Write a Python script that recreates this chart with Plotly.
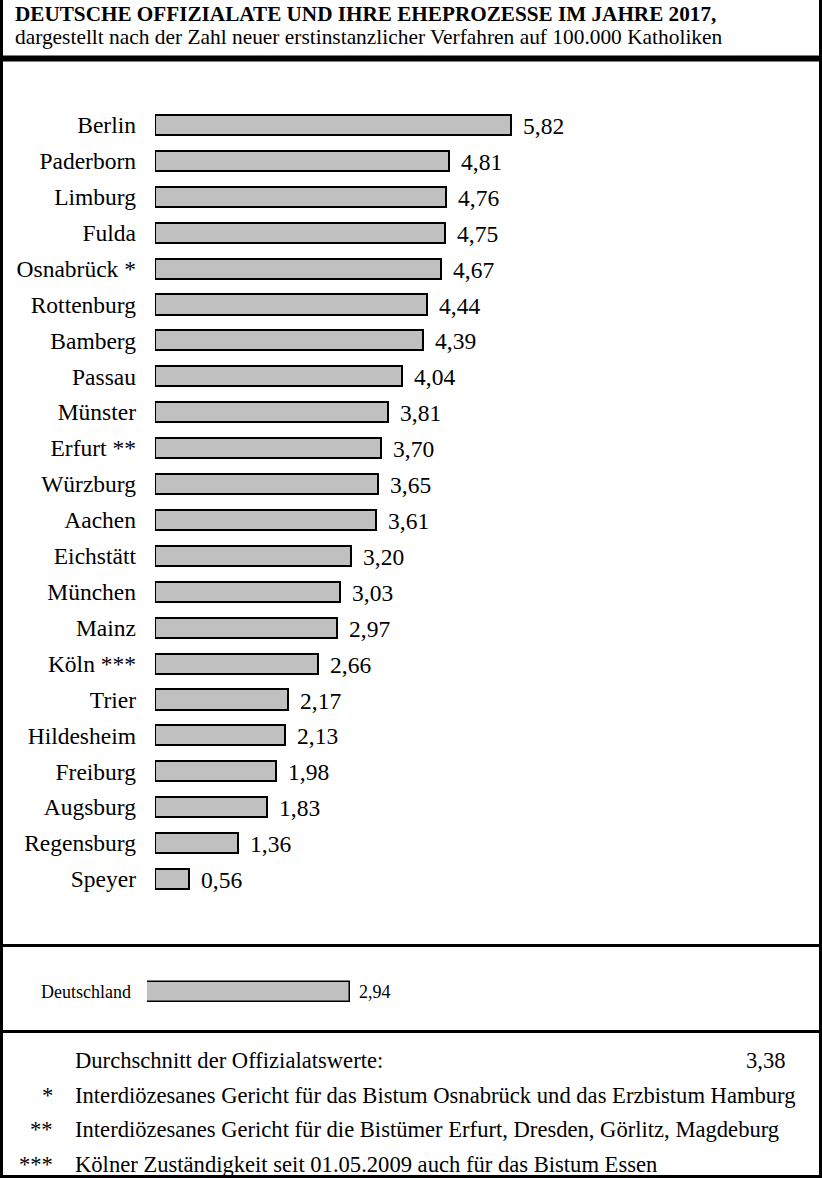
import plotly.graph_objects as go

W, H = 822, 1178

categories = ["Berlin", "Paderborn", "Limburg", "Fulda", "Osnabrück *", "Rottenburg",
              "Bamberg", "Passau", "Münster", "Erfurt **", "Würzburg", "Aachen",
              "Eichstätt", "München", "Mainz", "Köln ***", "Trier", "Hildesheim",
              "Freiburg", "Augsburg", "Regensburg", "Speyer"]
values = [5.82, 4.81, 4.76, 4.75, 4.67, 4.44, 4.39, 4.04, 3.81, 3.70, 3.65, 3.61,
          3.20, 3.03, 2.97, 2.66, 2.17, 2.13, 1.98, 1.83, 1.36, 0.56]

national_label = ["Deutschland"]
national_value = [2.94]

average_label = "Durchschnitt der Offizialatswerte:"
average_value = 3.38

footnote_marks = ["*", "**", "***"]
footnote_texts = [
    "Interdiözesanes Gericht für das Bistum Osnabrück und das Erzbistum Hamburg",
    "Interdiözesanes Gericht für die Bistümer Erfurt, Dresden, Görlitz, Magdeburg",
    "Kölner Zuständigkeit seit 01.05.2009 auch für das Bistum Essen",
]

title_text = "DEUTSCHE OFFIZIALATE UND IHRE EHEPROZESSE IM JAHRE 2017,"
subtitle_text = "dargestellt nach der Zahl neuer erstinstanzlicher Verfahren auf 100.000 Katholiken"

FONT = "Liberation Serif"


def fmt(v):
    return f"{v:.2f}".replace(".", ",")


def px(x):
    return x / W


def py(y):
    return 1 - y / H


fig = go.Figure()

fig.add_trace(go.Bar(
    x=values, y=categories, orientation="h",
    marker=dict(color="#c0c0c0", line=dict(color="black", width=2)),
    width=0.56, xaxis="x", yaxis="y", hoverinfo="skip",
))

fig.add_trace(go.Bar(
    x=national_value, y=national_label, orientation="h",
    marker=dict(color="#c0c0c0", line=dict(color="black", width=1.5)),
    width=0.5, xaxis="x2", yaxis="y2", hoverinfo="skip",
))

annotations = []
for c, v in zip(categories, values):
    annotations.append(dict(x=v, y=c, xref="x", yref="y", text=fmt(v),
                            showarrow=False, xanchor="left", xshift=10, yshift=-1,
                            font=dict(family=FONT, size=23.5, color="black")))
for c, v in zip(national_label, national_value):
    annotations.append(dict(x=v, y=c, xref="x2", yref="y2", text=fmt(v),
                            showarrow=False, xanchor="left", xshift=7,
                            font=dict(family=FONT, size=18, color="black")))

# Title
annotations.append(dict(x=px(13), y=py(14), xref="paper", yref="paper", text="<b>" + title_text + "</b>",
                        showarrow=False, xanchor="left", yanchor="middle",
                        font=dict(family=FONT, size=21.2, color="black")))
annotations.append(dict(x=px(13), y=py(37), xref="paper", yref="paper", text=subtitle_text,
                        showarrow=False, xanchor="left", yanchor="middle",
                        font=dict(family=FONT, size=21.4, color="black")))

# Footer
FOOT = 22.6
annotations.append(dict(x=px(73), y=py(1060), xref="paper", yref="paper", text=average_label,
                        showarrow=False, xanchor="left", yanchor="middle",
                        font=dict(family=FONT, size=FOOT, color="black")))
annotations.append(dict(x=px(788), y=py(1060), xref="paper", yref="paper", text=fmt(average_value),
                        showarrow=False, xanchor="right", yanchor="middle",
                        font=dict(family=FONT, size=FOOT, color="black")))
for i, (m, t) in enumerate(zip(footnote_marks, footnote_texts)):
    yy = 1095 + i * 34.5
    annotations.append(dict(x=px(55), y=py(yy), xref="paper", yref="paper", text=m,
                            showarrow=False, xanchor="right", yanchor="middle",
                            font=dict(family=FONT, size=FOOT, color="black")))
    annotations.append(dict(x=px(73), y=py(yy), xref="paper", yref="paper", text=t,
                            showarrow=False, xanchor="left", yanchor="middle",
                            font=dict(family=FONT, size=FOOT, color="black")))

shapes = [
    # outer border
    dict(type="rect", xref="paper", yref="paper", x0=px(1.5), x1=px(820.5), y0=py(1176.5), y1=py(-5),
         line=dict(color="black", width=3)),
    dict(type="line", xref="paper", yref="paper", x0=0, x1=1, y0=py(58.5), y1=py(58.5),
         line=dict(color="black", width=6)),
    dict(type="line", xref="paper", yref="paper", x0=0, x1=1, y0=py(945.5), y1=py(945.5),
         line=dict(color="black", width=3)),
    dict(type="line", xref="paper", yref="paper", x0=0, x1=1, y0=py(1031.5), y1=py(1031.5),
         line=dict(color="black", width=3)),
]

main_left = 155
scale_main = 61.15
nat_left = 147
scale_nat = 69.0
right_px = 800

fig.update_layout(
    width=W, height=H,
    margin=dict(l=0, r=0, t=0, b=0),
    paper_bgcolor="white", plot_bgcolor="white",
    showlegend=False,
    bargap=0,
    xaxis=dict(domain=[px(main_left), px(right_px)], range=[0, (right_px - main_left) / scale_main],
               visible=False, fixedrange=True),
    yaxis=dict(domain=[py(897), py(107)], autorange="reversed", type="category",
               showgrid=False, zeroline=False, showline=False, ticks="",
               ticklabelstandoff=18,
               tickfont=dict(family=FONT, size=23.5, color="black"), fixedrange=True),
    xaxis2=dict(domain=[px(nat_left), px(right_px)], range=[0, (right_px - nat_left) / scale_nat],
                visible=False, fixedrange=True, anchor="y2"),
    yaxis2=dict(domain=[py(1012), py(972)], type="category", anchor="x2",
                showgrid=False, zeroline=False, showline=False, ticks="",
                ticklabelstandoff=15,
                tickfont=dict(family=FONT, size=18, color="black"), fixedrange=True),
    annotations=annotations,
    shapes=shapes,
)

fig.write_html("out.html")
